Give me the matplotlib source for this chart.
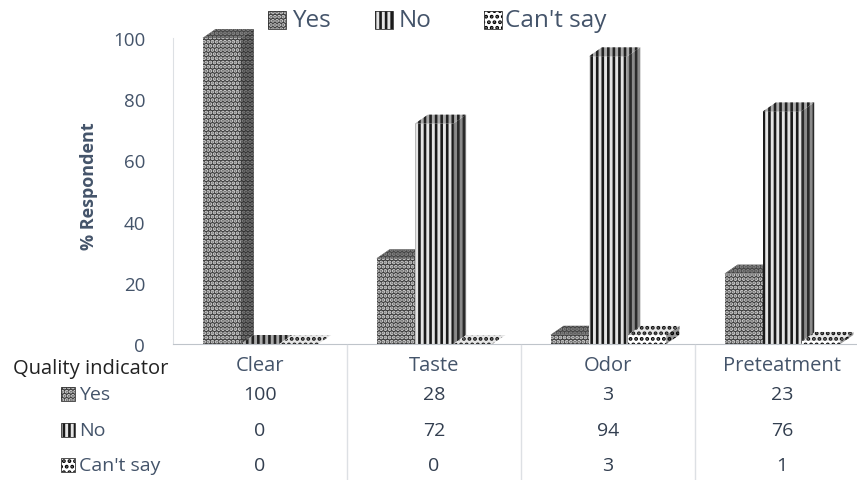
import matplotlib
matplotlib.use('Agg')
import matplotlib.pyplot as plt
from matplotlib.patches import Polygon, Rectangle

W, H = 857, 481

categories = ['Clear', 'Taste', 'Odor', 'Preteatment']
series_names = ['Yes', 'No', "Can't say"]
yes = [100, 28, 3, 23]
no = [0, 72, 94, 76]
cant_say = [0, 0, 3, 1]
yticks = [0, 20, 40, 60, 80, 100]

plt.rcParams['font.family'] = ['Open Sans', 'DejaVu Sans']
plt.rcParams['hatch.linewidth'] = 1.9

TXT = '#44546A'
LINE = '#DDE0E4'

# (face, hatch colour, hatch) for front, side and top of each series
styles = [
    {'front': ('#3c3c3c', '#d8d8d8', '....'), 'side': ('#333333', '#808080', '....'), 'top': ('#444444', '#8a8a8a', '....')},
    {'front': ('#e4e4e4', '#1a1a1a', '|||'), 'side': ('#8a8a8a', '#2a2a2a', '|||'), 'top': ('#aaaaaa', '#222222', '|||')},
    {'front': ('#ffffff', '#000000', '...'), 'side': ('#999999', '#000000', '...'), 'top': ('#e6e6e6', '#111111', '...')},
]

fig = plt.figure(figsize=(W / 100, H / 100), dpi=100)
ax = fig.add_axes([173 / W, 1 - 345 / H, (W - 173) / W, 306 / H])
ax.set_xlim(-0.5, 3.431)
ax.set_ylim(0, 100)
ax.patch.set_alpha(0)

bar_w = 0.22
dx = 13 / 174
dy = 9 / 3.06
offsets = [-0.22, 0, 0.225]


def box(x, v, st, z):
    l = x - bar_w / 2
    r = x + bar_w / 2
    f = st['front']
    if v > 0:
        ax.bar(x, v, bar_w, facecolor=f[0], edgecolor=f[1], hatch=f[2], linewidth=0, zorder=z)
    s = st['side']
    ax.add_patch(Polygon([(r, 0), (r + dx, dy), (r + dx, v + dy), (r, v)], facecolor=s[0],
                         edgecolor=s[1], hatch=s[2], linewidth=0, zorder=z, clip_on=False))
    t = st['top']
    ax.add_patch(Polygon([(l, v), (l + dx, v + dy), (r + dx, v + dy), (r, v)], facecolor=t[0],
                         edgecolor=t[1], hatch=t[2], linewidth=0, zorder=z, clip_on=False))


# bars, back to front from left to right
for i, vals in enumerate([yes, no, cant_say]):
    for j, v in enumerate(vals):
        box(j + offsets[i], v, styles[i], 3 + i)

for s in ['top', 'right']:
    ax.spines[s].set_visible(False)
ax.spines['left'].set_color(LINE)
ax.spines['bottom'].set_color('#BFC4CA')
ax.spines['bottom'].set_zorder(10)
ax.set_yticks(yticks)
ax.set_xticks([])
ax.tick_params(axis='y', length=0, labelsize=13.5, labelcolor=TXT, pad=20)
ax.set_ylabel('% Respondent', fontsize=13, fontweight='bold', color=TXT, labelpad=11, y=0.52)


def px_y(y):
    return (345 - y) / 306


# data table below the plot
tr = ax.get_xaxis_transform()
for j, c in enumerate(categories):
    ax.text(j, px_y(366), c, transform=tr, ha='center', va='center', fontsize=14.5, color=TXT, clip_on=False)
    ax.text(j, px_y(395), str(yes[j]), transform=tr, ha='center', va='center', fontsize=14, color='#333F50', clip_on=False)
    ax.text(j, px_y(431), str(no[j]), transform=tr, ha='center', va='center', fontsize=14, color='#333F50', clip_on=False)
    ax.text(j, px_y(466), str(cant_say[j]), transform=tr, ha='center', va='center', fontsize=14, color='#333F50', clip_on=False)

for xp in [347, 521, 695]:
    fig.add_artist(plt.Line2D([xp / W, xp / W], [1 - 346 / H, 1 - 480 / H], color=LINE, lw=1))

fig.text(13 / W, 1 - 369 / H, 'Quality indicator', ha='left', va='center', fontsize=14.5, color='#222222')


def swatch(x, y, size, st):
    f = st['front']
    corner = (x / W, 1 - (y + size / 2) / H)
    fig.add_artist(Rectangle(corner, size / W, size / H, transform=fig.transFigure,
                             facecolor=f[0], edgecolor=f[1], hatch=f[2], linewidth=0))
    fig.add_artist(Rectangle(corner, size / W, size / H, transform=fig.transFigure,
                             fill=False, edgecolor='#333333', linewidth=0.6))


# table row labels
for name, yp, st in zip(series_names, [395, 431, 466], styles):
    swatch(61, yp, 14, st)
    fig.text(79 / W, 1 - yp / H, name, ha='left', va='center', fontsize=14, color=TXT)

# legend at the top
for name, xs, xt, st in zip(series_names, [268, 375, 484], [292, 399, 505], styles):
    swatch(xs, 21, 18, st)
    fig.text(xt / W, 1 - 21 / H, name, ha='left', va='center', fontsize=17.5, color=TXT)

fig.savefig('out.png', dpi=100)
